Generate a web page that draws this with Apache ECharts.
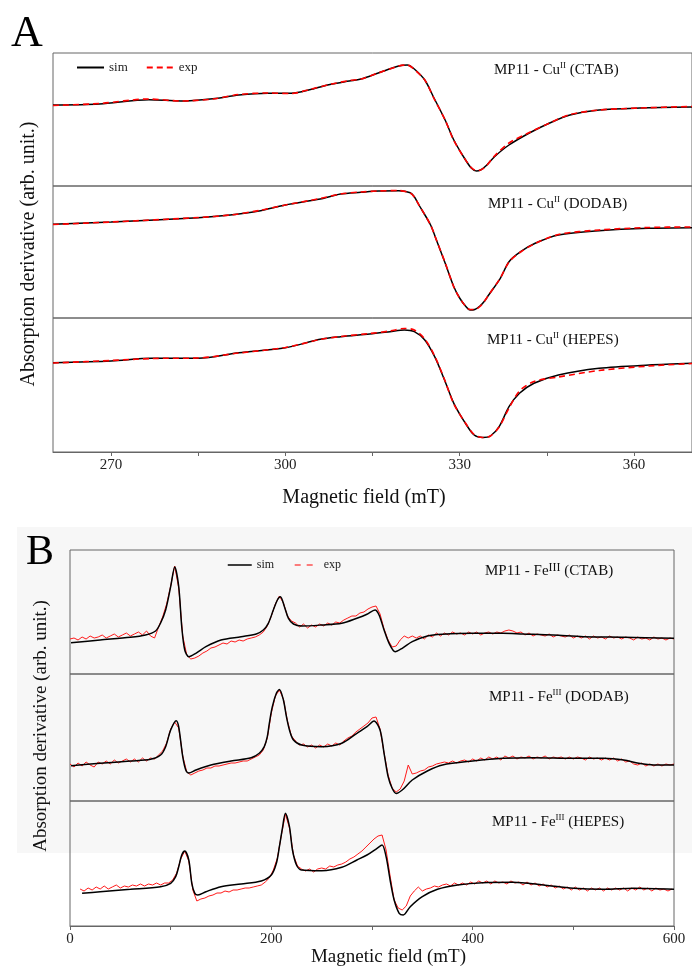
<!DOCTYPE html>
<html>
<head>
<meta charset="utf-8">
<title>MP11 EPR spectra</title>
<script src="https://cdn.jsdelivr.net/npm/echarts@6/dist/echarts.min.js"></script>
<style>
  html, body { margin: 0; padding: 0; background: #fff; }
  #main { width: 692px; height: 969px; }
</style>
</head>
<body>
<div id="main"></div>
<script>
// ---- panel A : Cu(II), field in mT, intensity in arb. units ----
const cuCtabField = [260, 268, 276.5, 282, 287.5, 292, 297, 301, 304.5, 308, 311, 313, 316, 319.5, 321, 322, 324, 325.5, 327.5, 329, 330.8, 332, 332.9, 333.6, 334.5, 336, 338.5, 342, 345.5, 349, 354, 361, 370]
const cuCtabSim = [81, 82, 86.3, 85, 87.3, 91, 92.7, 92.7, 96.7, 102, 105, 107, 113, 120, 121, 118, 106, 89, 66, 46, 28, 18, 15, 16, 20, 29.3, 41, 53, 63, 71, 76, 78, 79]
const cuCtabExp = [80.5, 82.5, 87, 85, 87, 91.5, 93, 92.5, 97, 102, 105.5, 107, 113, 120, 121, 117.5, 106, 88.5, 66, 45.5, 28, 18.5, 15.5, 16, 19.5, 30, 43, 53.5, 63, 71.5, 76, 78, 79.5]

const cuDodabField = [260, 270, 285, 290.5, 295.5, 300, 306, 309.5, 313, 316, 319.5, 321.5, 322.2, 323, 325, 326, 327.5, 329, 330, 331, 331.8, 332.6, 333.5, 334.3, 335, 337, 338.5, 340.5, 343, 347, 354, 362.5, 370]
const cuDodabSim = [93.7, 96, 100.3, 103, 107, 113, 119, 124, 125.7, 127, 127.3, 125.3, 121.3, 113, 93, 78, 55, 31.3, 20, 12, 8, 8.5, 12, 17, 23, 39.7, 56.3, 66.3, 74.7, 83, 87.3, 89.7, 90.3]
const cuDodabExp = [93.5, 96, 100.5, 103, 107.5, 113, 119.5, 124, 126, 127, 127.5, 125, 121, 113, 93, 78, 55.5, 31, 20, 12, 8.5, 8.5, 11.5, 17, 23, 40, 56, 66, 74.5, 83.5, 88, 90.5, 91]

const cuHepesField = [260, 270, 277, 285, 292, 300, 306, 309.5, 314.5, 318, 320.5, 322.2, 324, 325.7, 327.4, 329, 331, 332.5, 334, 335.3, 336.8, 338.5, 340.3, 342.8, 347, 354, 362.6, 370]
const cuHepesSim = [89.3, 91, 93.7, 93.7, 99.3, 104.3, 112.7, 115.3, 118, 120.3, 122, 120.3, 112, 95.3, 72, 48.7, 28.7, 17, 14.5, 16, 25.3, 45.3, 58.7, 68.7, 77, 83.7, 87, 88.7]
const cuHepesExp = [89, 91.5, 93.5, 94, 99, 104.5, 112.5, 115.5, 118.5, 121, 123.5, 122, 113, 96, 72.5, 48, 29, 17.5, 14.5, 16, 25, 44, 61, 70.5, 75, 81.5, 86, 88.5]

// ---- panel B : Fe(III) ----
const feCtabField = [1, 30, 60, 75, 85, 90, 95, 100, 104, 108, 111, 114, 118, 125, 135, 150, 170, 185, 192, 197, 202, 206, 209, 213, 217, 222, 230, 250, 270, 285, 295, 303, 307, 312, 317, 323, 330, 340, 355, 370, 400, 430, 450, 480, 510, 550, 600]
const feCtabSim = [31.3, 34, 36.7, 39, 43, 51, 64, 87.3, 107, 87.3, 47.3, 24, 17.3, 20.7, 27.3, 34, 37.3, 40, 44, 50.7, 64, 74, 77.3, 67.3, 55.7, 50, 48, 49, 50.7, 55.7, 59.7, 64, 59, 44, 30.7, 22.3, 25.7, 32.3, 38, 39.7, 40.7, 40.7, 40, 39, 37.3, 36.7, 35.7]

const feDodabField = [1, 30, 60, 80, 90, 95, 100, 105.5, 108, 112, 115, 118, 125, 140, 160, 180, 188, 193, 196, 198, 201, 205, 208, 212, 215, 218, 222, 230, 250, 270, 285, 295, 302, 308, 312, 316, 320, 324, 330, 340, 355, 370, 400, 430, 460, 500, 530, 550, 565, 580, 600]
const feDodabSim = [35.3, 37.7, 40, 41.7, 46, 54.3, 71, 80.3, 74, 44.3, 31, 28, 31, 36, 40, 43.3, 47.7, 54.3, 64.3, 77.7, 94.3, 107.7, 111.5, 101, 84.3, 71, 61, 56, 54.3, 57.7, 67.7, 74.3, 80, 71, 47.7, 24.3, 12.7, 7.5, 11, 21, 30, 36, 40, 42.7, 43.3, 42.7, 42.7, 41, 37.7, 36, 36]

const feHepesField = [12, 30, 60, 90, 100, 105, 108, 111, 114, 118, 121, 124, 127, 135, 150, 170, 190, 200, 205, 208, 211, 214, 218, 221, 225, 230, 250, 270, 285, 295, 305, 310, 314, 318, 322, 327, 331, 338, 350, 365, 385, 410, 440, 470, 500, 530, 560, 600]
const feHepesSim = [32.7, 34.3, 36.7, 39.3, 42.7, 49.3, 59.3, 71, 75, 66, 42.7, 32.7, 31, 34.3, 39.3, 42, 45, 51, 62.7, 79.3, 97.7, 112.7, 99.3, 76, 61, 56, 55.3, 58.7, 66, 71, 77.7, 81, 69.3, 46, 26, 12.7, 11, 19.3, 29.3, 36.7, 41, 43.3, 43.7, 41, 37.7, 36.7, 37.7, 36.7]

// measured spectra, sampled every 4 mT
const feExpStep = 4
const feCtabExpStart = 0
const feCtabExp = [
  35, 36, 34, 37, 35, 38, 36, 37, 39, 36,
  38, 40, 37, 39, 41, 38, 40, 42, 39, 43,
  38, 36, 47, 57, 70, 88, 108, 86, 38, 19,
  15, 16, 18, 21, 23, 26, 27, 29, 31, 30,
  33, 32, 34, 33, 35, 36, 37, 39, 42, 48,
  58, 70, 78, 71, 58, 53, 51, 47, 50, 46,
  49, 47, 50, 48, 51, 49, 52, 51, 54, 56,
  58, 58, 61, 62, 65, 67, 68, 60, 45, 34,
  27, 28, 34, 38, 36, 38, 36, 38, 35, 39,
  37, 41, 38, 41, 39, 42, 40, 41, 39, 42,
  40, 42, 39, 41, 42, 40, 42, 41, 43, 44,
  43, 41, 42, 39, 41, 38, 40, 39, 38, 40,
  37, 39, 38, 37, 39, 36, 38, 36, 38, 35,
  38, 36, 37, 35, 38, 36, 37, 35, 37, 36,
  34, 37, 35, 36, 34, 37, 35, 36, 34, 36,
  35
]
const feDodabExpStart = 0
const feDodabExp = [
  37, 34, 38, 35, 39, 36, 34, 39, 37, 40,
  37, 41, 38, 40, 42, 39, 42, 39, 43, 40,
  43, 42, 46, 50, 58, 72, 79, 73, 45, 29,
  26, 28, 30, 31, 33, 33, 35, 35, 36, 37,
  38, 38, 39, 40, 40, 42, 44, 46, 51, 63,
  88, 105, 111, 102, 80, 65, 60, 56, 57, 54,
  56, 53, 56, 54, 57, 55, 58, 56, 60, 63,
  65, 69, 72, 75, 78, 83, 84, 72, 48, 26,
  13, 9, 12, 20, 36, 27, 28, 30, 31, 34,
  35, 37, 38, 39, 38, 40, 38, 40, 41, 39,
  42, 40, 43, 41, 44, 42, 44, 41, 45, 43,
  45, 42, 44, 43, 45, 42, 44, 43, 45, 42,
  44, 43, 44, 42, 44, 42, 44, 43, 41, 44,
  42, 43, 41, 43, 41, 43, 40, 42, 39, 40,
  37, 36, 38, 35, 37, 35, 37, 35, 37, 36,
  37
]
const feHepesExpStart = 10
const feHepesExp = [
  37, 35, 38, 36, 39, 37, 40, 37, 39, 41,
  38, 40, 39, 41, 40, 42, 40, 42, 41, 43,
  41, 43, 43, 46, 53, 67, 75, 65, 36, 25,
  27, 28, 30, 31, 33, 33, 35, 34, 36, 36,
  37, 38, 38, 39, 40, 41, 44, 48, 56, 68,
  91, 112, 98, 71, 60, 57, 55, 57, 54, 57,
  58, 57, 60, 59, 61, 62, 64, 67, 69, 72,
  75, 79, 83, 87, 90, 91, 76, 50, 26, 18,
  16, 20, 30, 35, 39, 35, 37, 38, 40, 39,
  41, 42, 40, 43, 41, 43, 41, 44, 42, 45,
  43, 45, 42, 45, 43, 44, 42, 45, 43, 44,
  41, 44, 41, 43, 40, 42, 39, 41, 38, 40,
  37, 39, 36, 39, 36, 38, 35, 38, 36, 38,
  35, 38, 36, 38, 36, 38, 35, 38, 36, 39,
  36, 38, 35, 38, 36, 37, 35, 37
]

// axis ticks / labels
const cuTicks = [270, 285, 300, 315, 330, 345, 360]
const cuLabels = [270, 300, 330, 360]
const feTicks = [0, 100, 200, 300, 400, 500, 600]
const feLabels = [0, 200, 400, 600]

const cuNames = ['MP11 - Cu{s|II} (CTAB)', 'MP11 - Cu{s|II} (DODAB)', 'MP11 - Cu{s|II} (HEPES)']
const feNames = ['MP11 - Fe{b|III} (CTAB)', 'MP11 - Fe{s|III} (DODAB)', 'MP11 - Fe{s|III} (HEPES)']

// ---- layout ----
const serif = "'Liberation Serif', 'Times New Roman', serif"
const axisGray = '#666'

const pts = (xs, ys) => xs.map((x, i) => [x, ys[i]])
const stepPts = (start, step, ys) => ys.map((y, i) => [start + i * step, y])

const rows = [
  { panel: 'A', grid: { left: 53, top: 53, width: 641, height: 133 }, min: 260, max: 370, sim: pts(cuCtabField, cuCtabSim), exp: pts(cuCtabField, cuCtabExp) },
  { panel: 'A', grid: { left: 53, top: 186, width: 641, height: 132 }, min: 260, max: 370, sim: pts(cuDodabField, cuDodabSim), exp: pts(cuDodabField, cuDodabExp) },
  { panel: 'A', grid: { left: 53, top: 318, width: 641, height: 134 }, min: 260, max: 370, sim: pts(cuHepesField, cuHepesSim), exp: pts(cuHepesField, cuHepesExp), bottom: true },
  { panel: 'B', grid: { left: 70, top: 550, width: 604, height: 124 }, min: 0, max: 600, sim: pts(feCtabField, feCtabSim), exp: stepPts(feCtabExpStart, feExpStep, feCtabExp) },
  { panel: 'B', grid: { left: 70, top: 674, width: 604, height: 127 }, min: 0, max: 600, sim: pts(feDodabField, feDodabSim), exp: stepPts(feDodabExpStart, feExpStep, feDodabExp) },
  { panel: 'B', grid: { left: 70, top: 801, width: 604, height: 125 }, min: 0, max: 600, sim: pts(feHepesField, feHepesSim), exp: stepPts(feHepesExpStart, feExpStep, feHepesExp), bottom: true }
]

const grids = []
const xAxes = []
const yAxes = []
const series = []

rows.forEach((r, i) => {
  grids.push(Object.assign({ show: true, borderColor: axisGray, borderWidth: 1 }, r.grid))
  yAxes.push({ gridIndex: i, type: 'value', min: 0, max: r.grid.height, show: false })
  const isA = r.panel === 'A'
  if (r.bottom) {
    xAxes.push({
      gridIndex: i,
      type: 'value',
      min: r.min,
      max: r.max,
      axisLine: { show: true, lineStyle: { color: axisGray } },
      axisTick: { show: true, length: 4, customValues: isA ? cuTicks : feTicks, lineStyle: { color: axisGray } },
      axisLabel: { show: true, customValues: isA ? cuLabels : feLabels, margin: 6, fontFamily: serif, fontSize: 15, color: '#222' },
      splitLine: { show: false },
      name: 'Magnetic field (mT)',
      nameLocation: 'middle',
      nameGap: isA ? 36 : 19,
      nameTextStyle: {
        fontFamily: serif,
        fontSize: isA ? 20 : 19,
        color: '#111',
        padding: isA ? [0, 17, 0, 0] : [0, 0, 0, 33]
      }
    })
  } else {
    xAxes.push({ gridIndex: i, type: 'value', min: r.min, max: r.max, show: false })
  }

  const simSeries = {
    name: 'sim',
    type: 'line',
    xAxisIndex: i,
    yAxisIndex: i,
    data: r.sim,
    symbol: 'none',
    smooth: 0.3,
    lineStyle: { color: '#000', width: 1.5 },
    itemStyle: { color: '#000' }
  }
  const expSeries = {
    name: 'exp',
    type: 'line',
    xAxisIndex: i,
    yAxisIndex: i,
    data: r.exp,
    symbol: 'none',
    smooth: isA ? 0.3 : false,
    lineStyle: isA ? { color: '#ff0000', width: 1.6, type: [6, 4] } : { color: '#ff1a1a', width: 1 },
    itemStyle: { color: '#ff0000' }
  }
  // A: dashed exp drawn over sim; B: sim drawn over the noisy exp
  if (isA) series.push(simSeries, expSeries)
  else series.push(expSeries, simSeries)
})

const richSup = {
  s: { fontSize: 9, fontFamily: serif, fill: '#111', verticalAlign: 'top' },
  b: { fontSize: 12, fontFamily: serif, fill: '#111', verticalAlign: 'top' }
}
const labelPos = [
  [494, 70], [488, 204], [487, 340],
  [485, 571], [489, 697], [492, 822]
]
const labelTexts = cuNames.concat(feNames)

const graphic = [
  { type: 'rect', z: -10, silent: true, shape: { x: 17, y: 527, width: 675, height: 326 }, style: { fill: '#f7f7f7' } },
  { type: 'text', x: 11, y: 12, style: { text: 'A', fontSize: 44, fontFamily: serif, fill: '#000' } },
  { type: 'text', x: 26, y: 532, style: { text: 'B', fontSize: 42, fontFamily: serif, fill: '#000' } },
  { type: 'text', x: 29, y: 254, rotation: Math.PI / 2, style: { text: 'Absorption derivative (arb. unit.)', fontSize: 20, fontFamily: serif, fill: '#111', textAlign: 'center', textVerticalAlign: 'middle' } },
  { type: 'text', x: 41, y: 726, rotation: Math.PI / 2, style: { text: 'Absorption derivative (arb. unit.)', fontSize: 19, fontFamily: serif, fill: '#111', textAlign: 'center', textVerticalAlign: 'middle' } }
]
labelTexts.forEach((t, i) => {
  graphic.push({
    type: 'text',
    x: labelPos[i][0],
    y: labelPos[i][1],
    style: {
      text: t,
      fontSize: 15,
      fontFamily: serif,
      fill: '#111',
      lineHeight: 18,
      textVerticalAlign: 'middle',
      rich: richSup
    }
  })
})

const chart = echarts.init(document.getElementById('main'), null, { renderer: 'canvas' })
chart.setOption({
  animation: false,
  backgroundColor: '#fff',
  legend: [
    {
      left: 71, top: 56, itemWidth: 27, itemHeight: 14, itemGap: 18, selectedMode: false,
      itemStyle: { opacity: 0 },
      data: ['sim', 'exp'],
      textStyle: { fontFamily: serif, fontSize: 13, color: '#222' }
    },
    {
      left: 222, top: 554, itemWidth: 24, itemHeight: 14, itemGap: 20, selectedMode: false,
      itemStyle: { opacity: 0 },
      data: [{ name: 'sim', lineStyle: { width: 1.5 } }, { name: 'exp', lineStyle: { type: [6, 6], width: 1.2 } }],
      textStyle: { fontFamily: serif, fontSize: 12, color: '#222' }
    }
  ],
  grid: grids,
  xAxis: xAxes,
  yAxis: yAxes,
  series: series,
  graphic: graphic
})
</script>
</body>
</html>
